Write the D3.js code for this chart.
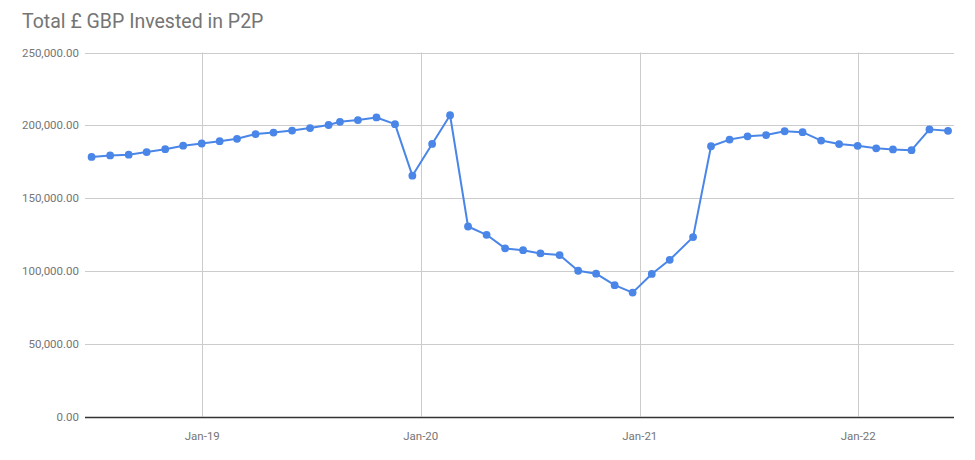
<!DOCTYPE html>
<html>
<head>
<meta charset="utf-8">
<script src="https://cdn.jsdelivr.net/npm/d3@7"></script>
<style>
  html, body { margin: 0; padding: 0; background: #fff; }
  svg { display: block; font-family: Roboto, "Noto Sans", sans-serif; }
</style>
</head>
<body>
<svg id="chart" width="975" height="460"></svg>
<script>
const title = "Total £ GBP Invested in P2P";

const dates = [
  "2018-06-30","2018-07-31","2018-08-31","2018-09-30","2018-10-31","2018-11-30","2018-12-31",
  "2019-01-30","2019-02-28","2019-03-31","2019-04-30","2019-05-31","2019-06-30","2019-07-31",
  "2019-08-19","2019-09-18","2019-10-19","2019-11-19","2019-12-18",
  "2020-01-20","2020-02-19","2020-03-20","2020-04-20","2020-05-21","2020-06-20","2020-07-19",
  "2020-08-20","2020-09-20","2020-10-20","2020-11-20","2020-12-20",
  "2021-01-21","2021-02-20","2021-03-31","2021-04-30","2021-05-31","2021-06-30","2021-07-31",
  "2021-08-31","2021-09-30","2021-10-31","2021-11-30","2021-12-31",
  "2022-01-31","2022-02-28","2022-03-31","2022-04-30","2022-05-31"
];

const invested = [
  178300, 179300, 179800, 181600, 183600, 186000, 187500,
  189100, 190700, 194000, 195000, 196400, 198100, 200200,
  202400, 203600, 205400, 200800, 165400,
  187200, 206900, 130500, 124800, 115500, 114200, 112000,
  110900, 100100, 98100, 90200, 85100,
  97900, 107600, 123200, 185600, 190200, 192400, 193300,
  195900, 195300, 189500, 187100, 185900,
  184200, 183400, 182900, 197200, 196200
];

const yTicks = [0, 50000, 100000, 150000, 200000, 250000];
const xTickDates = ["2019-01-01", "2020-01-01", "2021-01-01", "2022-01-01"];
const xTickLabels = ["Jan-19", "Jan-20", "Jan-21", "Jan-22"];

const parse = d3.utcParse("%Y-%m-%d");
const data = dates.map((d, i) => ({ date: parse(d), value: invested[i] }));

const svg = d3.select("#chart");
const plotL = 85, plotR = 954, plotT = 52.5, plotB = 416.5;

const x = d3.scaleUtc()
  .domain([parse("2018-06-19"), parse("2022-06-10")])
  .range([plotL, plotR]);
const y = d3.scaleLinear().domain([0, 250000]).range([plotB, plotT]);

const fmt = d3.format(",.2f");

// title
svg.append("text")
  .attr("x", 22).attr("y", 28)
  .attr("fill", "#757575")
  .style("font-size", "19.5px")
  .text(title);

// horizontal gridlines
svg.append("g").selectAll("line")
  .data(yTicks.filter(t => t !== 0))
  .join("line")
  .attr("x1", plotL).attr("x2", plotR)
  .attr("y1", d => Math.round(y(d)) + 0.5).attr("y2", d => Math.round(y(d)) + 0.5)
  .attr("stroke", "#cccccc").attr("stroke-width", 1);

// vertical gridlines
svg.append("g").selectAll("line")
  .data(xTickDates)
  .join("line")
  .attr("x1", d => Math.round(x(parse(d))) + 0.5).attr("x2", d => Math.round(x(parse(d))) + 0.5)
  .attr("y1", plotT).attr("y2", plotB)
  .attr("stroke", "#cccccc").attr("stroke-width", 1);

// y axis labels
svg.append("g").selectAll("text")
  .data(yTicks)
  .join("text")
  .attr("x", 79).attr("y", d => y(d) + 4)
  .attr("text-anchor", "end")
  .attr("fill", "#757575")
  .style("font-size", "11.5px")
  .text(d => fmt(d));

// x axis labels
svg.append("g").selectAll("text")
  .data(xTickDates)
  .join("text")
  .attr("x", d => x(parse(d)))
  .attr("y", 440)
  .attr("text-anchor", "middle")
  .attr("fill", "#757575")
  .style("font-size", "11.5px")
  .text((d, i) => xTickLabels[i]);

// baseline
svg.append("line")
  .attr("x1", plotL).attr("x2", plotR)
  .attr("y1", Math.round(y(0)) + 0.5).attr("y2", Math.round(y(0)) + 0.5)
  .attr("stroke", "#333333").attr("stroke-width", 1.3);

// line
const line = d3.line().x(d => x(d.date)).y(d => y(d.value));
svg.append("path")
  .datum(data)
  .attr("fill", "none")
  .attr("stroke", "#4a86e8")
  .attr("stroke-width", 2)
  .attr("stroke-linejoin", "round")
  .attr("d", line);

// points
svg.append("g").selectAll("circle")
  .data(data)
  .join("circle")
  .attr("cx", d => x(d.date))
  .attr("cy", d => y(d.value))
  .attr("r", 3.9)
  .attr("fill", "#4a86e8");
</script>
</body>
</html>
